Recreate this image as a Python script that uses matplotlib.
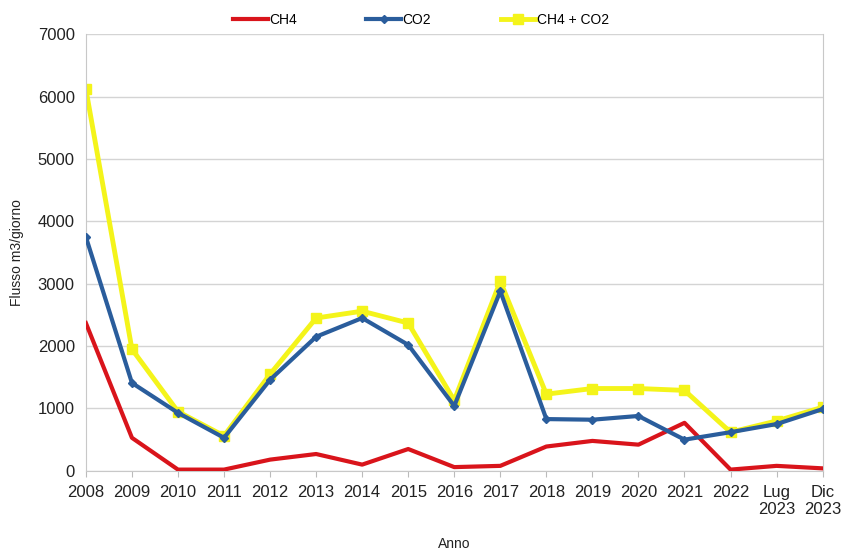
import matplotlib
matplotlib.use("Agg")
import matplotlib.pyplot as plt

categories = ["2008", "2009", "2010", "2011", "2012", "2013", "2014", "2015", "2016",
              "2017", "2018", "2019", "2020", "2021", "2022", "Lug\n2023", "Dic\n2023"]
ch4 = [2370, 530, 20, 20, 180, 270, 100, 350, 60, 80, 390, 480, 420, 770, 20, 80, 40]
co2 = [3750, 1410, 930, 530, 1460, 2150, 2450, 2020, 1040, 2880, 830, 820, 880, 500, 620, 750, 990]
tot = [6120, 1950, 950, 560, 1550, 2450, 2560, 2370, 1130, 3040, 1230, 1320, 1320, 1290, 620, 800, 1020]
yticks = [0, 1000, 2000, 3000, 4000, 5000, 6000, 7000]

plt.rcParams["font.family"] = ["Liberation Sans", "DejaVu Sans"]

fig = plt.figure(figsize=(8.42, 5.52), dpi=100)
ax = fig.add_axes([0.102, 0.147, 0.875, 0.791])
x = list(range(len(categories)))
ax.plot(x, ch4, color="#d9141b", lw=3, label="CH4", zorder=3)
ax.plot(x, co2, color="#2a5d9c", lw=3, marker="D", ms=4, label="CO2", zorder=4)
ax.plot(x, tot, color="#f4f41a", lw=3.5, marker="s", ms=7, label="CH4 + CO2", zorder=2)

ax.set_xlim(0, len(categories) - 1)
ax.set_ylim(0, 7000)
ax.set_yticks(yticks)
ax.set_xticks(x)
ax.set_xticklabels(categories)
ax.tick_params(axis="both", labelsize=12, colors="#222222")
ax.tick_params(axis="x", length=4, color="#bbbbbb", pad=6)
ax.tick_params(axis="y", length=0, pad=8)
ax.grid(axis="y", color="#d4d4d4", lw=1)
ax.set_axisbelow(True)
for s in ["left", "right", "bottom"]:
    ax.spines[s].set_color("#c8c8c8")
ax.spines["top"].set_visible(False)
ax.set_ylabel("Flusso m3/giorno", fontsize=10, color="#222222", labelpad=10)
ax.set_xlabel("Anno", fontsize=10, color="#222222", labelpad=14)
fig.legend(loc="upper center", bbox_to_anchor=(0.5, 1.0), ncol=3, frameon=False,
           fontsize=10, handlelength=2.5, columnspacing=5, handletextpad=0.1)
fig.savefig("out.png", dpi=100)
